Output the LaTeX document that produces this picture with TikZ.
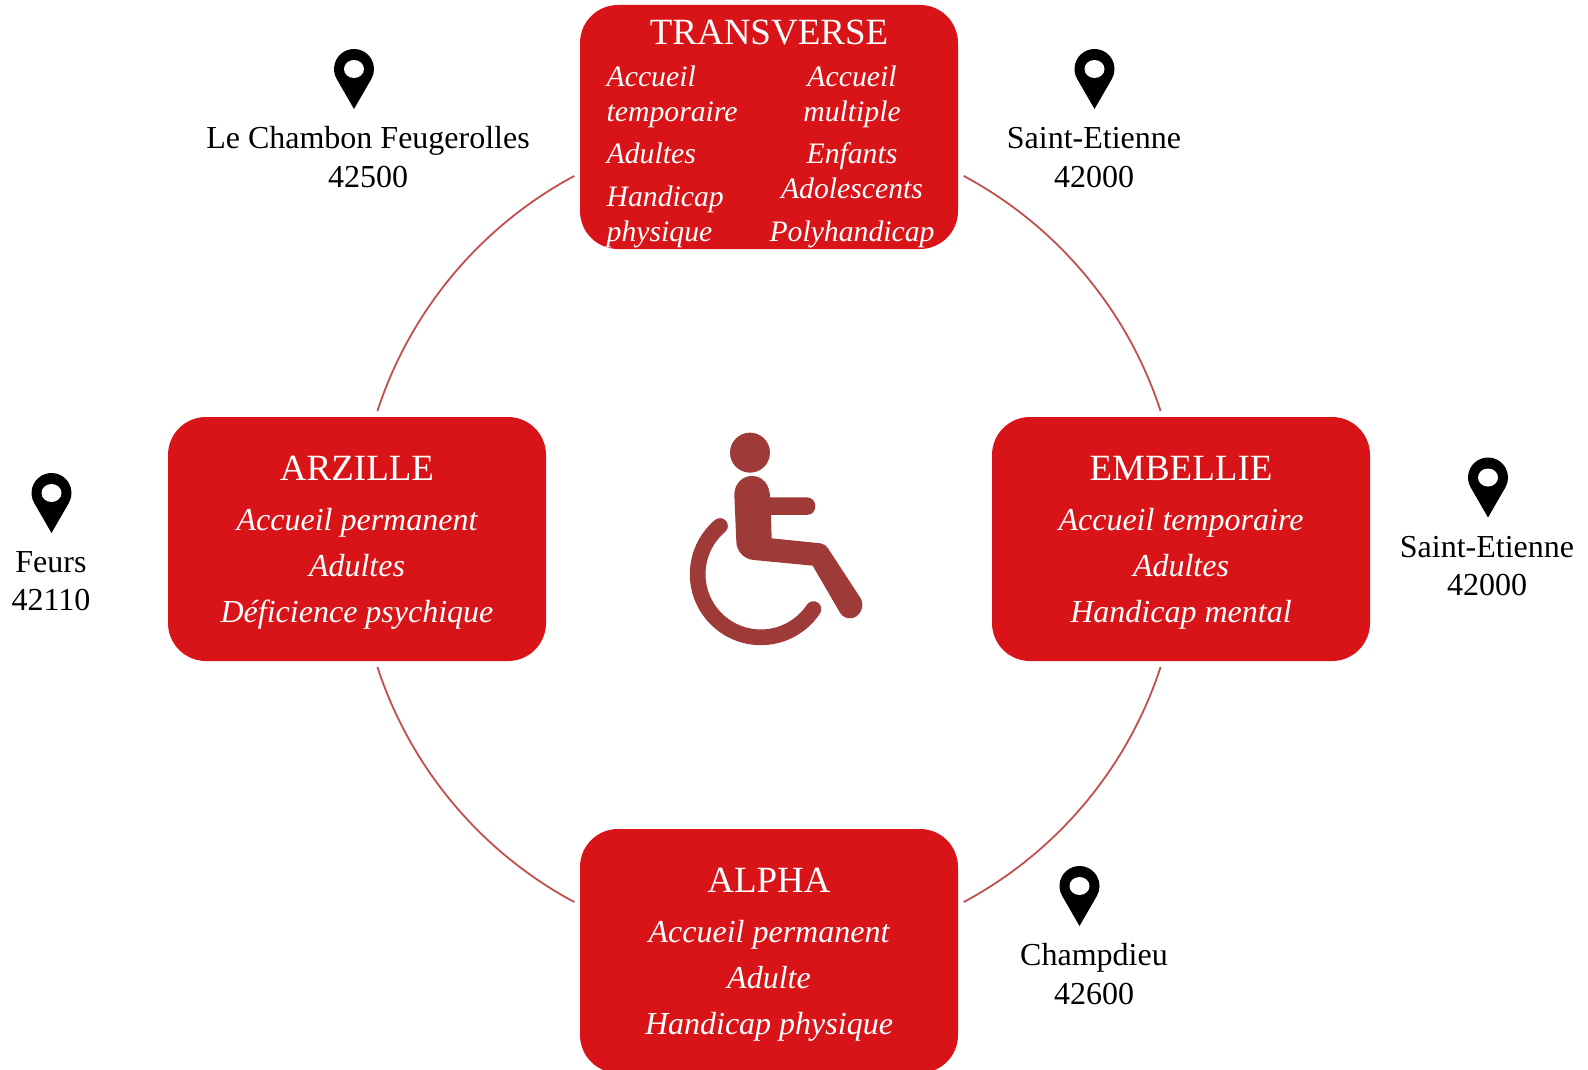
\documentclass[tikz,border=0pt]{standalone}
\usepackage{fontspec}
\setmainfont{Liberation Serif}
\definecolor{boxred}{RGB}{217,20,24}
\definecolor{ringred}{RGB}{192,80,77}
\definecolor{chair}{RGB}{158,58,56}
\tikzset{
  redbox/.style={draw=none,fill=boxred,rounded corners=38pt,minimum width=378pt,minimum height=244pt,inner sep=0pt},
  titletext/.style={text=white,anchor=base,inner sep=0pt,font=\fontsize{37}{40}\selectfont},
  bodytext/.style={text=white,anchor=base,inner sep=0pt,font=\fontsize{32}{36}\selectfont\itshape},
  smalltext/.style={bodytext,font=\fontsize{29.7}{34}\selectfont\itshape},
  smallleft/.style={smalltext,anchor=base west},
  place/.style={text=black,anchor=base,inner sep=0pt,font=\fontsize{32}{36}\selectfont},
  ring/.style={draw=ringred,line width=1.8pt},
  pin/.pic={
    \fill[black] (0,60) -- (-17.3,30) arc[start angle=150,end angle=390,radius=20] -- cycle;
    \fill[white] (0,20) ellipse[x radius=10,y radius=9];
  }
}
\begin{document}
\begin{tikzpicture}[x=1pt,y=-1pt]
\useasboundingbox (0,0) rectangle (1588,1070);
% ring
\coordinate (c) at (769,539);
\coordinate (a1) at ([shift={(c)}]241.8:412);
\coordinate (a2) at ([shift={(c)}]298.2:412);
\coordinate (a3) at ([shift={(c)}]18.1:412);
\coordinate (a4) at ([shift={(c)}]118.2:412);
\draw[ring] (a1) arc[start angle=241.8,end angle=198.1,radius=412];
\draw[ring] (a2) arc[start angle=298.2,end angle=341.9,radius=412];
\draw[ring] (a3) arc[start angle=18.1,end angle=61.8,radius=412];
\draw[ring] (a4) arc[start angle=118.2,end angle=161.9,radius=412];
% boxes
\node[redbox] (transverse) at (769,127) {};
\node[redbox] (arzille) at (357,539) {};
\node[redbox] (embellie) at (1181,539) {};
\node[redbox] (alpha) at (769,951) {};
% transverse text
\node[titletext] (t0) at (769,45) {TRANSVERSE};
\node[smallleft] (t1) at (606.5,87) {Accueil};
\node[smallleft] (t2) at (606.5,122) {temporaire};
\node[smallleft] (t3) at (606.5,164) {Adultes};
\node[smallleft] (t4) at (606.5,206) {Handicap};
\node[smallleft] (t5) at (606.5,241.5) {physique};
\node[smalltext] (u1) at (852,87) {Accueil};
\node[smalltext] (u2) at (852,122) {multiple};
\node[smalltext] (u3) at (852,164) {Enfants};
\node[smalltext] (u4) at (852,198.5) {Adolescents};
\node[smalltext] (u5) at (852,241.5) {Polyhandicap};
% arzille text
\node[titletext] (z0) at (357,480) {ARZILLE};
\node[bodytext] (z1) at (357,530.5) {Accueil permanent};
\node[bodytext] (z2) at (357,576.5) {Adultes};
\node[bodytext] (z3) at (357,622) {Déficience psychique};
% embellie text
\node[titletext] (e0) at (1181,480) {EMBELLIE};
\node[bodytext] (e1) at (1181,530.5) {Accueil temporaire};
\node[bodytext] (e2) at (1181,576.5) {Adultes};
\node[bodytext] (e3) at (1181,622) {Handicap mental};
% alpha text
\node[titletext] (l0) at (769,892) {ALPHA};
\node[bodytext] (l1) at (769,942.5) {Accueil permanent};
\node[bodytext] (l2) at (769,988.5) {Adulte};
\node[bodytext] (l3) at (769,1034) {Handicap physique};
% pins and places
\pic (pinA) at (354,49) {pin};
\node[place] (p1a) at (368,149) {Le Chambon Feugerolles};
\node[place] (p1b) at (368,187) {42500};
\pic (pinB) at (1094.5,49) {pin};
\node[place] (p2a) at (1094,149) {Saint-Etienne};
\node[place] (p2b) at (1094,187) {42000};
\pic (pinC) at (51.5,473) {pin};
\node[place] (p3a) at (51,572) {Feurs};
\node[place] (p3b) at (51,610) {42110};
\pic (pinD) at (1488,457.5) {pin};
\node[place] (p4a) at (1487,557) {Saint-Etienne};
\node[place] (p4b) at (1487,595) {42000};
\pic (pinE) at (1079.5,866) {pin};
\node[place] (p5a) at (1094,965) {Champdieu};
\node[place] (p5b) at (1094,1004.5) {42600};
% wheelchair icon
\begin{scope}[shift={(670,420)},x=0.3333pt,y=-0.3333pt]
\fill[chair] (240,98) circle[radius=60];
\fill[chair] (193,225) .. controls (193,190) and (218,168) .. (246,168)
  .. controls (276,168) and (300,192) .. (300,232)
  -- (410,232) .. controls (426,232) and (436,244) .. (436,258)
  .. controls (436,274) and (426,285) .. (410,285)
  -- (303,285) -- (305,355) -- (452,370)
  .. controls (462,371) and (470,378) .. (474,385)
  -- (572,535) .. controls (586,558) and (570,595) .. (540,595)
  .. controls (528,595) and (518,590) .. (510,578)
  -- (428,437) -- (250,420)
  .. controls (222,417) and (200,395) .. (199,365) -- cycle;
\draw[chair,line width=15.7pt,line cap=round] (150,318)
  arc[start angle=229.7,end angle=33.6,radius=189.5];
\end{scope}
\end{tikzpicture}
\end{document}
